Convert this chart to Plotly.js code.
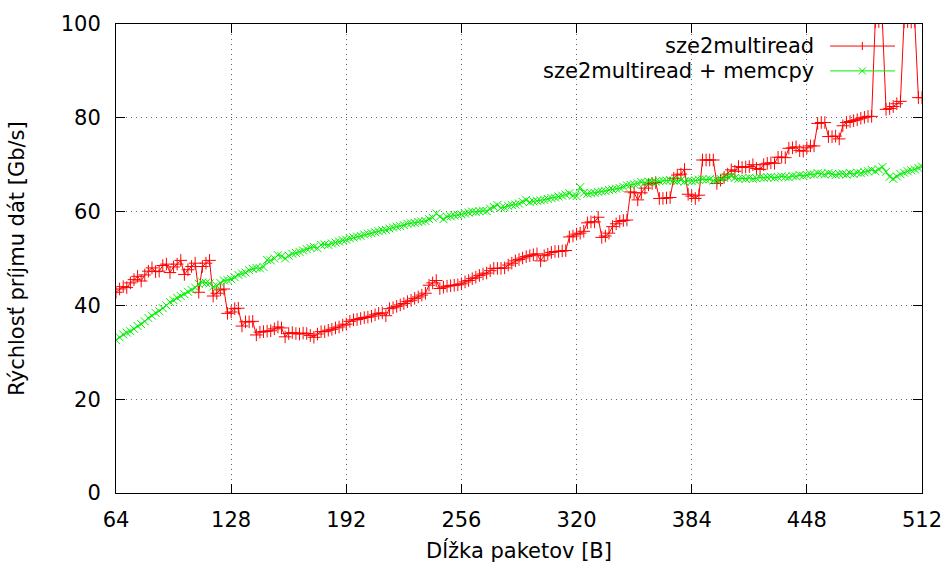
<!DOCTYPE html>
<html>
<head>
<meta charset="utf-8">
<script src="https://cdn.plot.ly/plotly-3.0.1.min.js"></script>
<style>html,body{margin:0;padding:0;background:#fff;}#chart{width:950px;height:572px;}</style>
</head>
<body>
<div id="chart"></div>
<script>
// Packet length in bytes
const packetLength = [
  64,66,68,70,72,74,76,78,80,82,84,86,88,90,92,94,
  96,98,100,102,104,106,108,110,112,114,116,118,120,122,124,126,
  128,130,132,134,136,138,140,142,144,146,148,150,152,154,156,158,
  160,162,164,166,168,170,172,174,176,178,180,182,184,186,188,190,
  192,194,196,198,200,202,204,206,208,210,212,214,216,218,220,222,
  224,226,228,230,232,234,236,238,240,242,244,246,248,250,252,254,
  256,258,260,262,264,266,268,270,272,274,276,278,280,282,284,286,
  288,290,292,294,296,298,300,302,304,306,308,310,312,314,316,318,
  320,322,324,326,328,330,332,334,336,338,340,342,344,346,348,350,
  352,354,356,358,360,362,364,366,368,370,372,374,376,378,380,382,
  384,386,388,390,392,394,396,398,400,402,404,406,408,410,412,414,
  416,418,420,422,424,426,428,430,432,434,436,438,440,442,444,446,
  448,450,452,454,456,458,460,462,464,466,468,470,472,474,476,478,
  480,482,484,486,488,490,492,494,496,498,500,502,504,506,508,510,
  512
];

// Series: sze2multiread [Gb/s]
const multiread = [
  42.8,43.5,44.0,43.8,44.8,45.5,46.2,45.2,46.5,47.3,48.0,47.2,47.3,48.5,48.8,47.0,
  48.2,48.8,49.6,46.6,47.6,48.3,49.0,42.8,48.3,49.0,49.6,42.0,42.6,43.3,43.5,38.3,
  38.6,39.3,39.4,35.6,36.5,36.5,36.6,33.7,34.3,34.4,34.5,34.6,35.0,35.4,35.2,33.3,
  34.0,34.2,34.0,33.9,34.1,34.0,33.6,33.2,33.9,34.4,34.4,34.7,34.9,35.2,35.4,35.8,
  36.0,36.6,36.9,37.0,37.2,37.4,37.5,37.7,38.0,38.3,38.4,37.8,39.3,39.5,39.8,40.1,
  40.4,40.8,41.1,41.5,41.8,42.2,42.6,44.3,44.8,45.3,43.6,43.9,44.1,44.2,44.3,44.4,
  44.6,45.0,45.3,45.7,46.0,46.4,46.7,46.9,47.4,47.9,47.9,47.9,48.0,48.6,49.0,49.5,
  49.8,50.1,50.4,50.6,50.8,51.0,49.5,50.6,50.9,51.3,51.5,51.5,51.6,51.7,54.6,54.8,
  55.2,55.4,55.8,57.6,57.8,57.8,58.8,54.5,54.8,55.4,56.8,57.4,57.9,58.1,58.2,64.2,
  64.0,62.5,64.0,65.0,65.7,66.0,66.2,62.8,62.8,62.9,63.0,67.1,67.8,68.0,69.0,63.7,
  63.3,62.8,63.5,71.0,71.0,71.0,71.0,66.0,66.7,67.3,68.0,68.9,68.6,69.6,69.4,69.5,
  69.6,70.0,69.2,69.0,70.0,70.3,70.4,70.3,71.6,71.6,71.5,73.5,73.6,73.8,73.0,72.9,
  73.6,74.0,74.0,78.8,79.0,79.0,76.0,76.0,76.1,75.5,78.3,79.0,79.2,79.4,79.6,79.9,
  80.1,80.3,80.3,100.4,100.5,100.4,81.8,82.0,82.4,83.0,83.5,100.4,100.5,100.4,100.5,84.3,
  84.3
];

// Series: sze2multiread + memcpy [Gb/s]
const multireadMemcpy = [
  32.6,33.2,33.8,34.2,34.5,35.0,35.6,36.0,36.6,37.3,37.8,38.4,38.8,39.4,40.0,40.7,
  41.1,41.6,42.0,42.4,42.9,43.3,43.8,44.6,44.9,44.8,44.7,44.0,44.2,44.8,45.3,45.4,
  45.6,46.0,46.5,46.8,47.0,47.5,47.8,48.0,47.9,48.2,49.7,49.6,50.0,50.7,50.5,50.0,
  50.6,51.0,51.2,51.4,51.7,52.0,52.3,52.5,52.2,52.9,53.0,52.9,53.2,53.4,53.6,53.9,
  54.0,54.3,54.5,54.7,54.8,55.1,55.3,55.4,55.6,55.8,56.0,56.1,56.4,56.6,56.8,56.9,
  57.1,57.4,57.5,57.6,57.8,57.9,58.0,58.4,58.7,59.6,58.9,58.4,58.9,59.0,59.2,59.3,
  59.4,59.6,59.8,60.0,59.9,60.1,60.2,60.1,60.6,61.0,61.4,60.8,60.9,61.2,61.4,61.5,
  61.7,62.1,62.5,62.0,62.2,62.3,62.4,62.5,62.7,62.9,63.0,63.2,63.4,63.6,63.9,63.4,
  63.3,65.2,64.0,63.8,63.9,64.0,64.2,64.3,64.4,64.6,64.7,64.9,65.0,65.3,65.6,65.7,
  65.8,66.0,66.3,66.2,66.4,66.3,66.4,66.5,66.6,66.6,66.7,66.6,66.5,66.7,66.4,66.6,
  66.5,66.6,66.8,66.9,66.8,66.9,66.6,66.7,67.0,67.2,67.4,67.6,67.2,67.0,67.1,67.0,
  67.2,67.0,67.1,67.3,67.2,67.3,67.4,67.2,67.3,67.5,67.4,67.3,67.6,67.5,67.8,67.6,
  67.8,68.0,67.9,68.2,68.1,67.9,68.2,68.0,67.8,68.0,68.1,67.9,68.2,68.0,68.3,68.2,
  68.4,68.6,68.9,68.6,69.0,69.5,68.5,67.4,67.0,67.5,68.0,68.3,68.6,68.8,69.0,69.3,
  69.6
];

const seriesNames = ['sze2multiread', 'sze2multiread + memcpy'];
const xTicks = [64,128,192,256,320,384,448,512];
const yTicks = [0,20,40,60,80,100];

const RED = '#ff0000';
const GREEN = '#00ee00';
const FONT = 'DejaVu Sans, Liberation Sans, sans-serif';
const FS = 21;

const traces = [
  {
    x: packetLength, y: multiread, name: seriesNames[0],
    type: 'scatter', mode: 'lines+markers',
    line: {color: RED, width: 1},
    marker: {symbol: 'cross-thin', size: 9, color: RED, line: {color: RED, width: 1}}
  },
  {
    x: packetLength, y: multireadMemcpy, name: seriesNames[1],
    type: 'scatter', mode: 'lines+markers',
    line: {color: GREEN, width: 1},
    marker: {symbol: 'x-thin', size: 8, color: GREEN, line: {color: GREEN, width: 1}}
  }
];

// Custom gnuplot-like key (text left of sample)
const keyTextX = 0.868, keyX0 = 0.886, keyX1 = 0.9665, keyXC = 0.926;
const keyY = [0.953, 0.900];
const keyColors = [RED, GREEN];
const annotations = seriesNames.map((n, i) => ({
  xref: 'paper', yref: 'paper', x: keyTextX, y: keyY[i],
  xanchor: 'right', yanchor: 'middle', showarrow: false,
  text: n, font: {family: FONT, size: FS, color: '#000'}
}));
const shapes = [];
seriesNames.forEach((n, i) => {
  shapes.push({type: 'line', xref: 'paper', yref: 'paper', x0: keyX0, x1: keyX1, y0: keyY[i], y1: keyY[i],
    line: {color: keyColors[i], width: 1}});
});
// '+' sample marker
shapes.push({type: 'line', xref: 'paper', yref: 'paper', xsizemode: 'pixel', ysizemode: 'pixel',
  xanchor: keyXC, yanchor: keyY[0], x0: 0, x1: 0, y0: -4, y1: 4, line: {color: RED, width: 1}});
// 'x' sample marker
shapes.push({type: 'line', xref: 'paper', yref: 'paper', xsizemode: 'pixel', ysizemode: 'pixel',
  xanchor: keyXC, yanchor: keyY[1], x0: -3.5, x1: 3.5, y0: -3.5, y1: 3.5, line: {color: GREEN, width: 1}});
shapes.push({type: 'line', xref: 'paper', yref: 'paper', xsizemode: 'pixel', ysizemode: 'pixel',
  xanchor: keyXC, yanchor: keyY[1], x0: -3.5, x1: 3.5, y0: 3.5, y1: -3.5, line: {color: GREEN, width: 1}});

const axisCommon = {
  ticks: 'inside', ticklen: 9, tickwidth: 1, tickcolor: '#000',
  showline: true, linecolor: '#000', linewidth: 1, mirror: 'ticks',
  showgrid: true, gridcolor: '#666', gridwidth: 1, griddash: '1px,4px',
  zeroline: false,
  tickfont: {family: FONT, size: FS, color: '#000'}
};

const layout = {
  width: 950, height: 572,
  margin: {l: 116, r: 28, t: 24, b: 79},
  paper_bgcolor: '#fff', plot_bgcolor: '#fff',
  showlegend: false,
  font: {family: FONT, color: '#000'},
  xaxis: Object.assign({}, axisCommon, {
    range: [64, 512], tickmode: 'array', tickvals: xTicks, ticktext: xTicks.map(String),
    ticklabelstandoff: 8,
    title: {text: 'Dĺžka paketov [B]', font: {family: FONT, size: FS, color: '#000'}, standoff: 12}
  }),
  yaxis: Object.assign({}, axisCommon, {
    range: [0, 100], tickmode: 'array', tickvals: yTicks, ticktext: yTicks.map(String),
    ticklabelstandoff: 10,
    title: {text: 'Rýchlosť príjmu dát [Gb/s]', font: {family: FONT, size: FS, color: '#000'}, standoff: 30}
  }),
  annotations: annotations,
  shapes: shapes
};

Plotly.newPlot('chart', traces, layout, {displayModeBar: false, staticPlot: true});
</script>
</body>
</html>
